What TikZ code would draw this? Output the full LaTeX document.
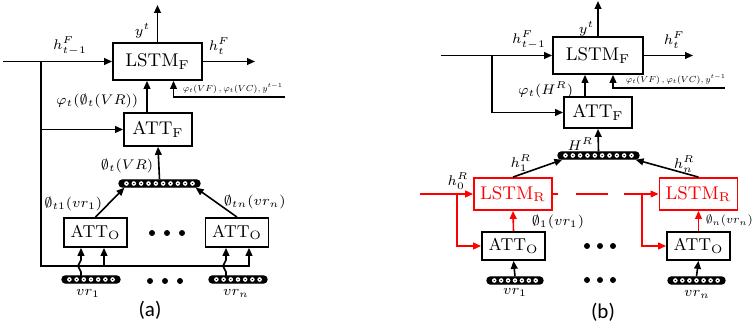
\documentclass[tikz,border=0pt]{standalone}
\usepackage{amssymb}
\usepackage{amsmath}
\usepackage{graphicx}
\usepackage{fontspec}
\newfontfamily\capfont{Carlito}
\usetikzlibrary{arrows.meta,calc}

% bar of feature cells
\newcommand{\featbar}[4]{%
  \node[fbar, minimum width=#3] (#1) at #2 {};
  \coordinate (#1-l) at ([xshift=2.2pt]#1.west);
  \coordinate (#1-r) at ([xshift=-2.2pt]#1.east);
  \foreach \k [evaluate=\k as \f using (\k-0.5)/#4] in {1,...,#4}{
    \fill[white] ($(#1-l)!\f!(#1-r)$) circle (1.15pt);
    \fill[black] ($(#1-l)!\f!(#1-r)$) circle (0.35pt);
  }
}
% side input text of LSTM_F
\newcommand{\auxtext}{\resizebox{50pt}{!}{$\varphi_t(VF)\,,\varphi_t(VC),y^{t-1}$}}

\begin{document}
\begin{tikzpicture}[
  x=0.5pt, y=-0.5pt, line width=0.8pt,
  >={Triangle[length=4pt,width=3.4pt]},
  blk/.style={draw, line width=0.9pt, fill=white, inner sep=0pt, font=\fontsize{9.2}{11}\selectfont},
  oblk/.style={blk, font=\fontsize{8.6}{10}\selectfont},
  rblk/.style={blk, draw=red, text=red},
  fbar/.style={draw, fill=black, line width=0.6pt, rounded corners=1.7pt, minimum height=3.6pt, inner sep=0pt},
  lab/.style={font=\fontsize{7.3}{9}\selectfont, inner sep=0.5pt},
  tinylab/.style={font=\fontsize{7}{8}\selectfont, inner sep=0.5pt},
  dot/.style={circle, fill=black, inner sep=0pt, minimum size=3pt},
  capt/.style={font=\capfont\fontsize{10.5}{12}\selectfont, inner sep=0pt},
]
\useasboundingbox (0,0) rectangle (752,330);
% ---------------- Panel (a): object attention straight into ATT_F ----------------
\begin{scope}
  \node[blk, minimum width=44.5pt, minimum height=18.5pt] (lstmFa) at (157.5,61.5) {LSTM$_\mathrm{F}$};
  \node[blk, minimum width=34pt, minimum height=16.5pt] (attFa) at (158,129.5) {ATT$_\mathrm{F}$};
  \node[oblk, minimum width=31.5pt, minimum height=14.5pt] (attOa1) at (95.5,232.5) {ATT$_\mathrm{O}$};
  \node[oblk, minimum width=31.5pt, minimum height=14.5pt] (attOa2) at (237,232.5) {ATT$_\mathrm{O}$};
  \featbar{vecA}{(159.5,183.5)}{40.5pt}{10}
  \featbar{vrA1}{(91,279.5)}{29pt}{7}
  \featbar{vrAn}{(238,279.5)}{29pt}{7}
  % free ends
  \coordinate (inA) at (3,61.5);
  \coordinate (jA) at (41,61.5);
  \coordinate (outA) at (255,61.5);
  \coordinate (yA) at (157.5,5);
  \coordinate (auxA) at (285,97);
  \coordinate (cornA) at (249,266);
  \coordinate (tapA) at (104,266);
  \coordinate (wA1) at (81,276);
  \coordinate (wAn) at (226,276);
  % connectors
  \draw[->] (inA) -- (lstmFa.west);
  \draw[->] (lstmFa.east) -- (outA);
  \draw[->] (lstmFa.north) -- (yA);
  \draw[->] (auxA) -| ([xshift=8pt]lstmFa.south);
  \draw[->] ([xshift=-5.5pt]attFa.north) -- ([xshift=-5.5pt]attFa.north |- lstmFa.south);
  \draw[->] (jA |- attFa.west) -- (attFa.west);
  \draw[->] (jA) |- (cornA) -- (cornA |- attOa2.south);
  \draw[->] (tapA) -- (tapA |- attOa1.south);
  \draw[->] (vecA.north) -- (attFa.south);
  \draw[->] (attOa1.north) -- ([xshift=3pt]vecA.south west);
  \draw[->] (attOa2.north) -- ([xshift=-2.5pt]vecA.south east);
  \draw[->] (wA1) -- ++(0,-4) .. controls +(0,-3) and +(0,3) .. ++(-3,-6)
    .. controls +(0,-3) and +(0,3) .. ++(3,-6) -- (wA1 |- attOa1.south);
  \draw[->] (wAn) -- ++(0,-4) .. controls +(0,-3) and +(0,3) .. ++(-3,-6)
    .. controls +(0,-3) and +(0,3) .. ++(3,-6) -- (wAn |- attOa2.south);
  \foreach \x in {152,167,182} \node[dot] at (\x,233) {};
  \foreach \x in {150,165,180} \node[dot] at (\x,281) {};
  % labels
  \node[lab, anchor=east] (lyA) at (152,31) {$y^t$};
  \node[lab, anchor=south] (lhinA) at (70,57) {$h^F_{t-1}$};
  \node[lab, anchor=south west] (lhoutA) at (207,56) {$h^F_t$};
  \node[tinylab, anchor=south west] (lauxA) at (181,95) {\auxtext};
  \node[lab, anchor=east] (lphiA) at (140,101) {$\varphi_t(\emptyset_t(VR))$};
  \node[lab, anchor=east] (lvecA) at (155,166) {$\emptyset_t(VR)$};
  \node[lab, anchor=east] (lo1A) at (104,204) {$\emptyset_{t1}(vr_1)$};
  \node[lab, anchor=west] (lonA) at (222,202) {$\emptyset_{tn}(vr_n)$};
  \node[lab] (lvr1A) at (88,293) {$vr_1$};
  \node[lab] (lvrnA) at (236,293) {$vr_n$};
  \node[capt] (capA) at (150,310) {(a)};
\end{scope}
% ---------------- Panel (b): LSTM_R chain over regions ----------------
\begin{scope}
  \node[blk, minimum width=45pt, minimum height=18.5pt] (lstmFb) at (598,55.5) {LSTM$_\mathrm{F}$};
  \node[blk, minimum width=34pt, minimum height=15.5pt] (attFb) at (598,112.5) {ATT$_\mathrm{F}$};
  \featbar{vecB}{(598.5,155.5)}{40.5pt}{10}
  \node[rblk, minimum width=39pt, minimum height=16pt] (lstmR1) at (513,194) {LSTM$_\mathrm{R}$};
  \node[rblk, minimum width=39pt, minimum height=16pt] (lstmR2) at (698.5,194) {LSTM$_\mathrm{R}$};
  \node[oblk, minimum width=31.5pt, minimum height=14pt] (attOb1) at (513.5,246) {ATT$_\mathrm{O}$};
  \node[oblk, minimum width=31.5pt, minimum height=14pt] (attOb2) at (698.5,246) {ATT$_\mathrm{O}$};
  \featbar{vrB1}{(515,280.5)}{28pt}{7}
  \featbar{vrBn}{(696.5,280.5)}{28.5pt}{7}
  % free ends
  \coordinate (inB) at (441,55.5);
  \coordinate (jB) at (492,55.5);
  \coordinate (outB) at (693,55.5);
  \coordinate (yB) at (598,1);
  \coordinate (auxB) at (725,88);
  \coordinate (h0B) at (420,194);
  \coordinate (jh0B) at (457,194);
  \coordinate (jhnB) at (642,194);
  % connectors
  \draw[->] (inB) -- (lstmFb.west);
  \draw[->] (lstmFb.east) -- (outB);
  \draw[->] (lstmFb.north) -- (yB);
  \draw[->] (auxB) -| ([xshift=7.5pt]lstmFb.south);
  \draw[->] ([xshift=-6.5pt]attFb.north) -- ([xshift=-6.5pt]attFb.north |- lstmFb.south);
  \draw[->] (jB) |- (attFb.west);
  \draw[->] (vecB.north) -- (attFb.south);
  \draw[->] (lstmR1.north) -- ([xshift=2.5pt]vecB.south west);
  \draw[->] (lstmR2.north) -- ([xshift=-2pt]vecB.south east);
  \draw[->, red] (h0B) -- (lstmR1.west);
  \draw[->, red] (jh0B) |- (attOb1.west);
  \draw[->, red, dash pattern=on 2.5pt off 9pt on 16pt off 8pt on 30pt] (lstmR1.east) -- (lstmR2.west);
  \draw[->, red] (jhnB) |- (attOb2.west);
  \draw[->, red] (attOb1.north) -- (lstmR1.south);
  \draw[->, red] (attOb2.north) -- (lstmR2.south);
  \draw[->] (vrB1.north) -- (attOb1.south);
  \draw[->] (vrBn.north) -- (attOb2.south);
  \foreach \x in {587,600,613} \node[dot] at (\x,246) {};
  \foreach \x in {587,600,613} \node[dot] at (\x,280) {};
  % labels
  \node[lab, anchor=east] (lyB) at (596,29) {$y^t$};
  \node[lab, anchor=south] (lhinB) at (529,51) {$h^F_{t-1}$};
  \node[lab, anchor=south west] (lhoutB) at (662,50) {$h^F_t$};
  \node[tinylab, anchor=south west] (lauxB) at (624,86) {\auxtext};
  \node[lab, anchor=east] (lphiB) at (575,90) {$\varphi_t(H^R)$};
  \node[lab, anchor=east] (lHB) at (595,144) {$H^R$};
  \node[lab, anchor=east] (lh1B) at (533,163) {$h^R_1$};
  \node[lab, anchor=west] (lhnB) at (672,164) {$h^R_n$};
  \node[lab, anchor=south] (lh0B) at (458,191) {$h^R_0$};
  \node[lab, anchor=west] (lo1B) at (530,222) {$\emptyset_1(vr_1)$};
  \node[lab, anchor=west] (lonB) at (704,221) {\resizebox{23.5pt}{!}{$\emptyset_n(vr_n)$}};
  \node[lab] (lvr1B) at (515,292) {$vr_1$};
  \node[lab] (lvrnB) at (697,294) {$vr_n$};
  \node[capt] (capB) at (603,312) {(b)};
\end{scope}
\end{tikzpicture}
\end{document}
